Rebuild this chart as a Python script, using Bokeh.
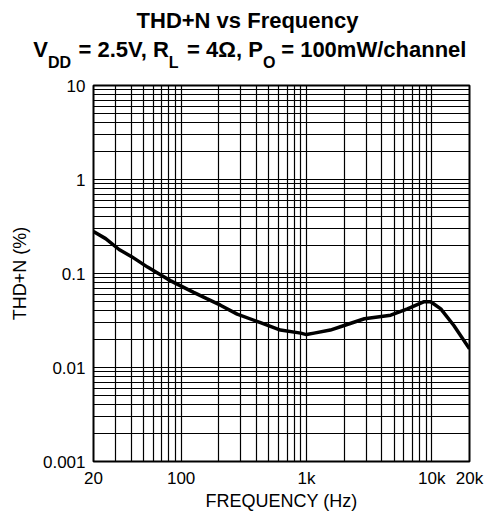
from bokeh.plotting import figure
from bokeh.models import FixedTicker, ColumnDataSource, Label
from bokeh.embed import file_html
from bokeh.resources import INLINE

# ---- data ----
freq_hz = [20, 25, 32, 40, 54, 70, 82, 93, 126, 160, 206, 280, 430, 620, 900,
           1000, 1150, 1550, 2000, 2900, 4700, 6400, 8600, 9800, 11800, 15000, 20000]
thd_pct = [0.28, 0.235, 0.18, 0.152, 0.117, 0.095, 0.084, 0.077, 0.063, 0.054, 0.046,
           0.037, 0.030, 0.025, 0.0232, 0.0224, 0.0232, 0.025, 0.028, 0.033, 0.036,
           0.042, 0.050, 0.050, 0.042, 0.028, 0.0158]

x_ticks = [20, 100, 1000, 10000, 20000]
x_tick_labels = ["20", "100", "1k", "10k", "20k"]
y_ticks = [0.001, 0.01, 0.1, 1, 10]
y_tick_labels = ["0.001", "0.01", "0.1", "1", "10"]

title_line1 = "THD+N vs Frequency"
title_line2_text = ["V", "DD", " = 2.5V, R", "L", " = 4Ω, P", "O", " = 100mW/channel"]
title_line2_sub = [False, True, False, True, False, True, False]
x_axis_title = "FREQUENCY (Hz)"
y_axis_title = "THD+N (%)"

grid_x = [m * 10 ** d for d in range(1, 5) for m in range(1, 10) if 20 <= m * 10 ** d <= 20000]
grid_y = [float(f"{m}e{d}") for d in range(-3, 2) for m in range(1, 10) if m * 10.0 ** d <= 10.0001]

FONT = "Liberation Sans"
FRAME = 376
BL, BR, BT, BB = 93, 15, 85, 48

p = figure(frame_width=FRAME, frame_height=FRAME,
           x_axis_type="log", y_axis_type="log",
           x_range=(20, 20000), y_range=(0.001, 10),
           output_backend="svg", toolbar_location=None,
           min_border_left=BL, min_border_right=BR,
           min_border_top=BT, min_border_bottom=BB)

p.background_fill_color = "white"
p.border_fill_color = "white"
p.outline_line_color = "black"
p.outline_line_width = 2

p.xgrid.ticker = FixedTicker(ticks=grid_x)
p.ygrid.ticker = FixedTicker(ticks=grid_y)
for g in (p.xgrid, p.ygrid):
    g.grid_line_color = "black"
    g.grid_line_width = 1.2
    g.grid_line_alpha = 1.0

p.xaxis.ticker = FixedTicker(ticks=x_ticks)
p.yaxis.ticker = FixedTicker(ticks=y_ticks)
p.xaxis.major_label_overrides = dict(zip(x_ticks, x_tick_labels))
p.yaxis.major_label_overrides = dict(zip(y_ticks, y_tick_labels))

for ax in (p.xaxis, p.yaxis):
    ax.axis_line_color = None
    ax.major_tick_line_color = None
    ax.minor_tick_line_color = None
    ax.major_tick_out = 0
    ax.major_tick_in = 0
    ax.minor_tick_out = 0
    ax.minor_tick_in = 0
    ax.major_label_text_font = FONT
    ax.major_label_text_font_size = "17px"
    ax.major_label_text_color = "black"
    ax.axis_label_text_font = FONT
    ax.axis_label_text_font_size = "18px"
    ax.axis_label_text_font_style = "normal"
    ax.axis_label_text_color = "black"

p.xaxis.major_label_standoff = 7
p.xaxis.axis_label = x_axis_title
p.xaxis.axis_label_standoff = 0
p.yaxis.major_label_standoff = 8
p.yaxis.axis_label = y_axis_title
p.yaxis.axis_label_standoff = 10

src = ColumnDataSource(dict(f=freq_hz, thd=thd_pct))
p.line("f", "thd", source=src, line_color="black", line_width=3.5)

# ---- title: three labels stacked in the panel above the frame ----
W = {" ": 278, "\u00a0": 278, "=": 584, "2": 556, ".": 278, "5": 556, "V": 667, ",": 278,
     "R": 722, "4": 556, "Ω": 768, "P": 667, "1": 556, "0": 556, "m": 889, "W": 944,
     "/": 278, "c": 556, "h": 611, "a": 556, "n": 611, "e": 556, "l": 278, "D": 722,
     "L": 611, "O": 778}
MAIN, SUB = 22.0, 16.0
NB = "\u00a0"
H_MAIN_LABEL = 27.0    # height the first (22px) label takes in the stacked panel
H_SUB_LABEL = 14.5     # height the subscript (16px) label takes
SHIFT_MAIN = 8.0       # baseline correction for 22px labels
SHIFT_SUB = 5.0        # baseline correction for 16px labels


def wpx(s, size):
    return sum(W.get(ch, 556) for ch in s) / 1000.0 * size


main_str = ""
sub_pos = []
for s, sb in zip(title_line2_text, title_line2_sub):
    if sb:
        n = max(1, round(wpx(s, SUB) / wpx(NB, MAIN)))
        sub_pos.append((wpx(main_str, MAIN), s))
        main_str += NB * n
    else:
        main_str += s.replace(" ", NB)
line2_left = 250 - wpx(main_str, MAIN) / 2.0

sub_str = ""
for off, s in sub_pos:
    if sub_str:
        gap = off - (sub_pos[0][0] + wpx(sub_str, SUB))
        sub_str += NB * max(1, round(gap / wpx(NB, SUB)))
    sub_str += s
sub_left = line2_left + sub_pos[0][0]


def title_label(px, y_up, text, size, align):
    return Label(x=px - BL, y=y_up, x_units="screen", y_units="screen", text=text,
                 text_font=FONT, text_font_style="bold", text_font_size=f"{int(size)}px",
                 text_align=align, text_baseline="alphabetic", text_color="black")


p.add_layout(title_label(line2_left, BT - 56.5 + SHIFT_MAIN, main_str, MAIN, "left"), "above")
p.add_layout(title_label(sub_left, (BT - H_MAIN_LABEL) - 65 + SHIFT_SUB, sub_str, SUB, "left"),
             "above")
p.add_layout(title_label(247, (BT - H_MAIN_LABEL - H_SUB_LABEL) - 28.5 + SHIFT_MAIN,
                         title_line1, MAIN, "center"), "above")

open("out.html", "w").write(file_html(p, INLINE))
